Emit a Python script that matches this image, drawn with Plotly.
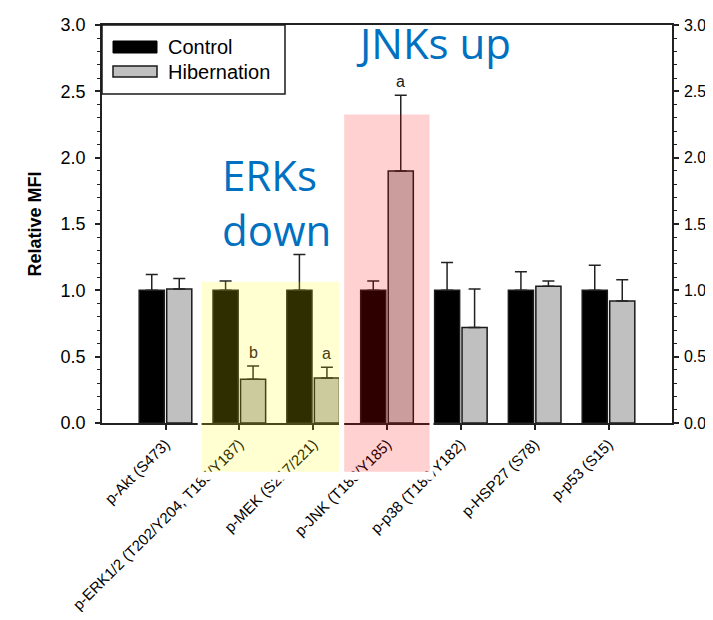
import plotly.graph_objects as go

# ---------------- data ----------------
categories = ["p-Akt (S473)", "p-ERK1/2 (T202/Y204, T185/Y187)", "p-MEK (S217/221)",
              "p-JNK (T183/Y185)", "p-p38 (T180/Y182)", "p-HSP27 (S78)", "p-p53 (S15)"]
control = [1.00, 1.00, 1.00, 1.00, 1.00, 1.00, 1.00]
control_err = [0.12, 0.07, 0.27, 0.07, 0.21, 0.14, 0.19]
hibernation = [1.01, 0.33, 0.34, 1.90, 0.72, 1.03, 0.92]
hibernation_err = [0.08, 0.10, 0.08, 0.57, 0.29, 0.04, 0.16]
sig_letters = ["", "b", "a", "a", "", "", ""]
y_ticks = [0.0, 0.5, 1.0, 1.5, 2.0, 2.5, 3.0]

# ---------------- layout geometry (page pixel coords) ----------------
PAGE_W, PAGE_H = 713, 620
BODY = 8                       # default body margin of the html page
W_FIG, H_FIG = PAGE_W - 2 * BODY, PAGE_H - 2 * BODY
L, R, T, B = 102, 672, 25, 423
PW, PH = R - L, B - T
X_RANGE = [-0.86, 6.86]
Y_RANGE = [0, 3]
FONT = "Liberation Sans, Arial, sans-serif"
BLUE_FONT = "Open Sans, Noto Sans, sans-serif"

def px_x(px):
    return (px - L) / PW

def px_y(py):
    return (B - py) / PH

def dat_x(u):
    return (u - X_RANGE[0]) / (X_RANGE[1] - X_RANGE[0])

def dat_y(v):
    return (v - Y_RANGE[0]) / (Y_RANGE[1] - Y_RANGE[0])

fig = go.Figure()

fig.add_trace(go.Bar(
    name="Control", x=categories, y=control,
    marker=dict(color="#000000", line=dict(color="#1a1a1a", width=1.5)),
    error_y=dict(type="data", array=control_err, arrayminus=[0] * 7, symmetric=False,
                 color="#222222", thickness=1.5, width=6),
    showlegend=False,
))
fig.add_trace(go.Bar(
    name="Hibernation", x=categories, y=hibernation,
    marker=dict(color="#c0c0c0", line=dict(color="#1a1a1a", width=1.5)),
    error_y=dict(type="data", array=hibernation_err, arrayminus=[0] * 7, symmetric=False,
                 color="#222222", thickness=1.5, width=6),
    showlegend=False,
))
# empty trace so the right-hand axis is drawn
fig.add_trace(go.Scatter(x=[], y=[], yaxis="y2", showlegend=False, hoverinfo="skip"))

shapes = []

# highlight boxes (category units / data units)
highlights = [
    dict(u0=0.49, u1=2.35, v0=-0.367, v1=1.065, color="rgba(255,255,0,0.18)"),
    dict(u0=2.42, u1=3.575, v0=-0.367, v1=2.326, color="rgba(255,0,0,0.18)"),
]
padx = 4 / PW
pady = 8 / PH
for h in highlights:
    x0, x1 = dat_x(h["u0"]), dat_x(h["u1"])
    y0, y1 = dat_y(h["v0"]), dat_y(h["v1"])
    for (a0, a1, b0, b1) in [(x0 - padx, x1 + padx, y0 - pady, y0),
                             (x0 - padx, x0, y0, y1),
                             (x1, x1 + padx, y0, y1)]:
        shapes.append(dict(type="rect", xref="paper", yref="paper", x0=a0, x1=a1, y0=b0, y1=b1,
                           fillcolor="white", line=dict(width=0), layer="above"))
for h in highlights:
    shapes.append(dict(type="rect", xref="paper", yref="paper",
                       x0=dat_x(h["u0"]), x1=dat_x(h["u1"]),
                       y0=dat_y(h["v0"]), y1=dat_y(h["v1"]),
                       fillcolor=h["color"], line=dict(width=0), layer="above"))

# legend box (manual, to match wide swatches)
shapes.append(dict(type="rect", xref="paper", yref="paper",
                   x0=px_x(102), x1=px_x(285), y0=px_y(94), y1=px_y(25),
                   fillcolor="rgba(0,0,0,0)", line=dict(color="#1a1a1a", width=1.5), layer="above"))
shapes.append(dict(type="rect", xref="paper", yref="paper",
                   x0=px_x(113), x1=px_x(157), y0=px_y(53), y1=px_y(41),
                   fillcolor="#000000", line=dict(color="#000000", width=1), layer="above"))
shapes.append(dict(type="rect", xref="paper", yref="paper",
                   x0=px_x(113), x1=px_x(157), y0=px_y(77), y1=px_y(66),
                   fillcolor="#c0c0c0", line=dict(color="#1a1a1a", width=1.5), layer="above"))

annotations = [
    dict(text="Control", xref="paper", yref="paper", x=px_x(166), y=px_y(47),
         xanchor="left", yanchor="middle", showarrow=False, font=dict(family=FONT, size=20, color="#000")),
    dict(text="Hibernation", xref="paper", yref="paper", x=px_x(166), y=px_y(71.5),
         xanchor="left", yanchor="middle", showarrow=False, font=dict(family=FONT, size=20, color="#000")),
    dict(text="JNKs up", xref="paper", yref="paper", x=px_x(433), y=px_y(42),
         xanchor="center", yanchor="middle", showarrow=False,
         font=dict(family=BLUE_FONT, size=42, color="#0070c0")),
    dict(text="ERKs<br>down", xref="paper", yref="paper", x=px_x(220), y=px_y(202),
         xanchor="left", yanchor="middle", showarrow=False, align="left",
         font=dict(family=BLUE_FONT, size=42, color="#0070c0")),
]
for i, letter in enumerate(sig_letters):
    if letter:
        col = "#4a3d14" if i in (1, 2) else "#1a1a1a"
        annotations.append(dict(text=letter, xref="x", yref="y", x=i + 0.186,
                                y=hibernation[i] + hibernation_err[i],
                                xanchor="center", yanchor="bottom", yshift=3, showarrow=False,
                                font=dict(family=FONT, size=16, color=col)))

def y_axis(label_size, standoff):
    return dict(
        range=Y_RANGE, tickvals=y_ticks, tickformat=".1f", automargin=False,
        ticks="outside", ticklen=5, tickwidth=1.5, tickcolor="#222",
        minor=dict(dtick=0.1, ticks="outside", ticklen=3, tickwidth=1.2, tickcolor="#222"),
        showgrid=False, zeroline=False, showline=True, linecolor="#222", linewidth=1.5,
        tickfont=dict(family=FONT, size=label_size, color="#000"), ticklabelstandoff=standoff,
    )

fig.update_layout(
    width=W_FIG, height=H_FIG,
    margin=dict(l=L - BODY, r=PAGE_W - BODY - R, t=T - BODY, b=PAGE_H - BODY - B, autoexpand=False),
    paper_bgcolor="white", plot_bgcolor="white",
    barmode="group", bargap=0.255, bargroupgap=0.087,
    xaxis=dict(type="category", range=X_RANGE, automargin=False,
               ticks="outside", ticklen=5, tickwidth=1.5,
               tickcolor="#222", showline=True, mirror=True, linecolor="#222", linewidth=1.5,
               showgrid=False, tickangle=-45,
               tickfont=dict(family=FONT, size=15, color="#000")),
    yaxis=dict(**y_axis(18, 6),
               title=dict(text="<b>Relative MFI</b>", standoff=14,
                          font=dict(family=FONT, size=18, color="#000"))),
    yaxis2=dict(**y_axis(16, 2), overlaying="y", side="right", anchor="x"),
    shapes=shapes,
    annotations=annotations,
    showlegend=False,
)

fig.write_html("out.html")
